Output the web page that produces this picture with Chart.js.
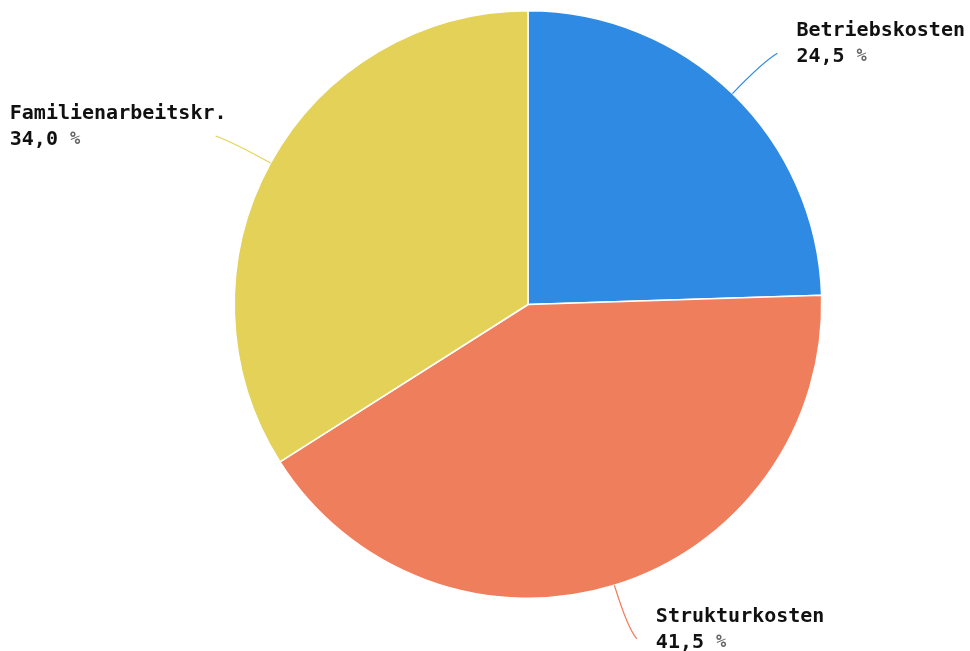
<!DOCTYPE html>
<html>
<head>
<meta charset="utf-8">
<script src="https://cdn.jsdelivr.net/npm/chart.js@4.4.1/dist/chart.umd.min.js"></script>
<style>
  html, body { margin: 0; padding: 0; background: #fff; }
  #wrap { width: 970px; height: 651px; }
</style>
</head>
<body>
<div id="wrap"><canvas id="pie"></canvas></div>
<script>
const categories = ['Betriebskosten', 'Strukturkosten', 'Familienarbeitskr.'];
const shares = [24.5, 41.5, 34.0];
const sliceColors = ['#2e8ae2', '#ef7f5c', '#e3d257'];

const LABEL_FONT = 'bold 20px "DejaVu Sans Mono", monospace';
const PCT_FONT = 'bold 17px "DejaVu Sans Mono", monospace';

function fmtShare(v) {
  return v.toFixed(1).replace('.', ',');
}

// curved leader lines plus two-line labels beside each slice
const calloutPlugin = {
  id: 'callouts',
  afterDatasetsDraw(chart) {
    const ctx = chart.ctx;
    const meta = chart.getDatasetMeta(0);
    ctx.save();
    meta.data.forEach((arc, i) => {
      const p = arc.getProps(['x', 'y', 'startAngle', 'endAngle', 'outerRadius'], true);
      const mid = (p.startAngle + p.endAngle) / 2;
      const ux = Math.cos(mid);
      const uy = Math.sin(mid);
      const side = ux >= 0 ? 1 : -1;
      const sx = p.x + ux * p.outerRadius;
      const sy = p.y + uy * p.outerRadius;
      const ex = sx + ux * 56 + side * 6;
      const ey = sy + uy * 56;
      const cx = sx + ux * 45;
      const cy = sy + uy * 45;

      ctx.strokeStyle = sliceColors[i];
      ctx.lineWidth = 1.2;
      ctx.beginPath();
      ctx.moveTo(sx, sy);
      ctx.quadraticCurveTo(cx, cy, ex, ey);
      ctx.stroke();

      ctx.font = LABEL_FONT;
      const name = categories[i];
      const num = fmtShare(shares[i]) + ' ';
      const numW = ctx.measureText(num).width;
      const blockW = Math.max(ctx.measureText(name).width, numW + ctx.measureText('%').width);
      const tx = side > 0 ? ex + 19 : ex + 11 - blockW;

      ctx.textAlign = 'left';
      ctx.textBaseline = 'alphabetic';
      ctx.fillStyle = '#111';
      ctx.fillText(name, tx, ey - 17);
      ctx.fillText(num, tx, ey + 9);
      ctx.font = PCT_FONT;
      ctx.fillStyle = '#666';
      ctx.fillText('%', tx + numW, ey + 8);
    });
    ctx.restore();
  }
};

new Chart(document.getElementById('pie'), {
  type: 'pie',
  data: {
    labels: categories,
    datasets: [{
      data: shares,
      backgroundColor: sliceColors,
      borderColor: '#ffffff',
      borderWidth: 1.5
    }]
  },
  options: {
    responsive: true,
    maintainAspectRatio: false,
    animation: false,
    layout: {
      padding: { left: 233, right: 147, top: 10, bottom: 52 }
    },
    plugins: {
      legend: { display: false },
      tooltip: { enabled: false }
    }
  },
  plugins: [calloutPlugin]
});
</script>
</body>
</html>
